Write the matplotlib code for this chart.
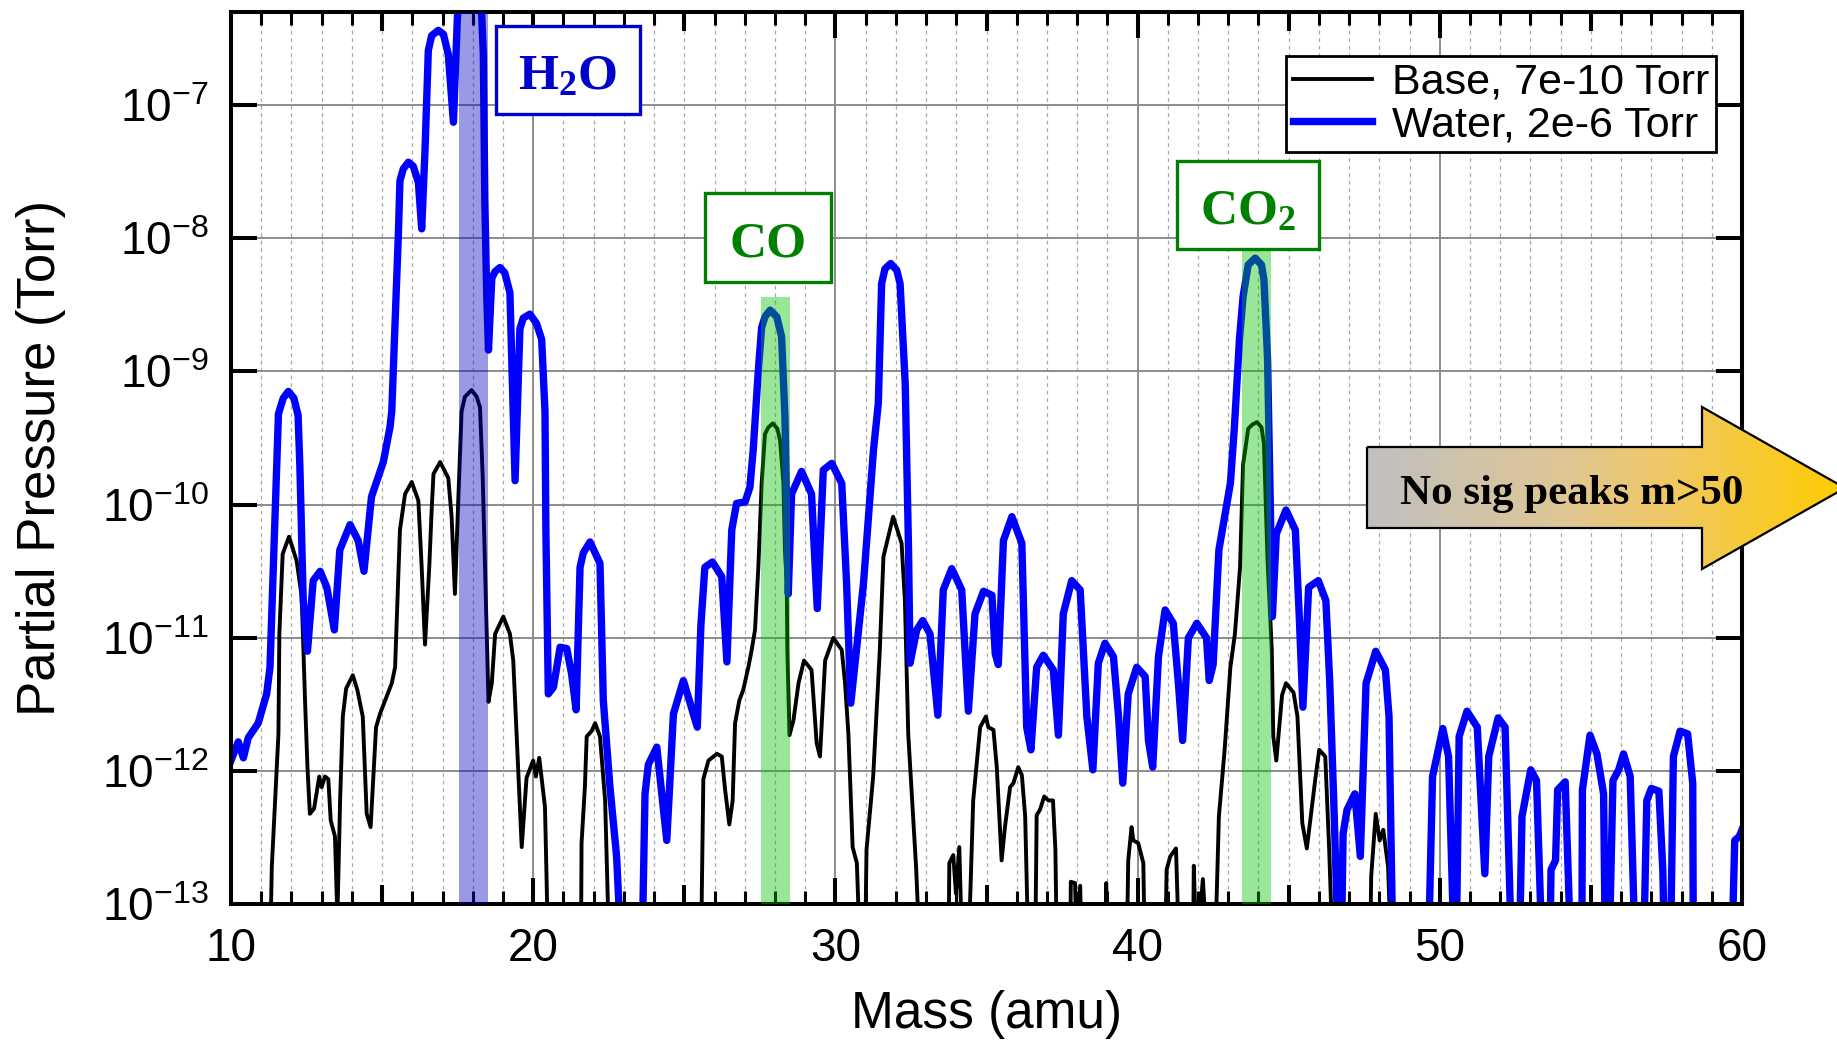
import numpy as np
import matplotlib
matplotlib.use('Agg')
import matplotlib.pyplot as plt
from matplotlib.patches import Rectangle, Polygon
from matplotlib.colors import LinearSegmentedColormap
from matplotlib.ticker import MultipleLocator, LogLocator, NullLocator

plt.rcParams['font.family'] = ['Liberation Sans', 'DejaVu Sans']
plt.rcParams['mathtext.default'] = 'regular'
plt.rcParams['axes.unicode_minus'] = False

# RGA scans, mass (amu) and log10 of partial pressure (Torr); -13.4 = below scale
base_mass = [11.29, 11.35, 11.46, 11.57, 11.60, 11.71, 11.92, 12.17, 12.34, 12.45,
             12.53, 12.61, 12.75, 12.92, 13.00, 13.11, 13.22, 13.30, 13.44, 13.52,
             13.61, 13.70, 13.81, 14.03, 14.18, 14.36, 14.49, 14.62, 14.80, 14.93,
             15.15, 15.32, 15.43, 15.59, 15.76, 15.98, 16.20, 16.31, 16.42, 16.56,
             16.64, 16.70, 16.92, 17.19, 17.30, 17.41, 17.52, 17.63, 17.74, 17.96,
             18.13, 18.24, 18.33, 18.46, 18.52, 18.63, 18.74, 19.01, 19.23, 19.34,
             19.45, 19.62, 19.78, 20.00, 20.09, 20.20, 20.39, 20.50, 21.58, 21.60,
             21.71, 21.77, 21.93, 22.05, 22.21, 22.38, 22.52, 25.55, 25.63, 25.80,
             26.08, 26.24, 26.35, 26.49, 26.60, 26.68, 26.82, 26.95, 27.12, 27.23,
             27.34, 27.45, 27.56, 27.67, 27.78, 27.93, 28.08, 28.17, 28.28, 28.33,
             28.39, 28.41, 28.48, 28.61, 28.78, 28.96, 29.21, 29.38, 29.49, 29.66,
             29.93, 30.21, 30.32, 30.43, 30.57, 30.71, 30.82, 30.98, 31.03, 31.25,
             31.47, 31.59, 31.91, 32.19, 32.30, 32.41, 32.67, 32.80, 33.74, 33.77,
             33.90, 33.99, 34.10, 34.20, 34.40, 34.46, 34.56, 34.79, 34.98, 35.06,
             35.23, 35.34, 35.50, 35.61, 35.78, 35.89, 36.05, 36.17, 36.28, 36.39,
             36.61, 36.66, 36.77, 36.91, 37.05, 37.20, 37.28, 37.33, 37.77, 37.79,
             37.93, 37.99, 38.10, 38.15, 38.95, 38.96, 38.99, 39.64, 39.69, 39.80,
             39.86, 40.02, 40.19, 40.24, 40.91, 40.96, 41.08, 41.27, 41.38, 41.83,
             41.86, 41.95, 42.16, 42.31, 42.56, 42.69, 42.88, 43.07, 43.22, 43.39,
             43.49, 43.66, 43.79, 43.95, 44.10, 44.18, 44.30, 44.44, 44.49, 44.59,
             44.78, 44.91, 45.16, 45.29, 45.45, 45.60, 45.73, 45.88, 46.01, 46.21,
             46.34, 46.46, 47.69, 47.73, 47.88, 48.01, 48.13, 48.29, 48.39]
base_logp = [-13.4, -12.72, -12.22, -11.72, -10.97, -10.37, -10.24, -10.42, -10.69, -11.47,
             -11.97, -12.32, -12.28, -12.04, -12.12, -12.04, -12.06, -12.37, -12.49, -13.1,
             -12.22, -11.59, -11.38, -11.28, -11.39, -11.59, -12.32, -12.42, -11.67, -11.57,
             -11.44, -11.34, -11.22, -10.19, -9.92, -9.83, -9.97, -10.47, -11.05, -10.47,
             -10.04, -9.77, -9.68, -9.80, -10.09, -10.67, -9.97, -9.30, -9.19, -9.14,
             -9.19, -9.27, -9.80, -10.97, -11.48, -11.34, -10.97, -10.84, -10.97, -11.17,
             -11.72, -12.57, -12.05, -11.92, -12.04, -11.90, -12.27, -13.4, -13.4, -12.54,
             -12.12, -11.74, -11.70, -11.64, -11.74, -12.22, -13.4, -13.4, -12.06, -11.92,
             -11.87, -11.89, -12.14, -12.40, -12.22, -11.64, -11.47, -11.39, -11.22, -11.09,
             -10.94, -10.47, -9.84, -9.47, -9.42, -9.39, -9.43, -9.52, -9.84, -10.34,
             -10.59, -11.09, -11.73, -11.62, -11.34, -11.17, -11.24, -11.79, -11.89, -11.17,
             -11.00, -11.09, -11.34, -11.72, -12.57, -12.69, -13.4, -13.4, -12.59, -12.04,
             -11.09, -10.39, -10.09, -10.29, -10.72, -11.72, -12.72, -13.4, -13.4, -12.69,
             -12.63, -12.92, -12.57, -13.4, -13.4, -12.95, -12.22, -11.67, -11.59, -11.67,
             -11.69, -11.97, -12.67, -12.42, -12.12, -12.09, -11.97, -12.03, -12.34, -13.4,
             -13.4, -12.33, -12.29, -12.19, -12.22, -12.22, -12.59, -13.4, -13.4, -12.83,
             -12.84, -13.4, -12.86, -13.4, -13.4, -12.84, -13.4, -13.4, -12.67, -12.42,
             -12.52, -12.54, -12.69, -13.4, -13.4, -12.74, -12.64, -12.58, -13.4, -13.4,
             -12.71, -13.4, -12.81, -13.4, -13.4, -12.34, -11.84, -11.22, -10.97, -10.47,
             -9.70, -9.43, -9.40, -9.38, -9.42, -9.54, -10.42, -11.09, -11.74, -11.92,
             -11.43, -11.34, -11.41, -11.59, -12.39, -12.58, -12.34, -12.06, -11.84, -11.89,
             -12.59, -13.4, -13.4, -12.79, -12.32, -12.52, -12.44, -12.72, -13.4]

water_mass = [10.00, 10.24, 10.41, 10.57, 10.90, 11.18, 11.29, 11.40, 11.57, 11.62,
              11.73, 11.90, 12.08, 12.22, 12.28, 12.39, 12.53, 12.72, 12.95, 13.17,
              13.42, 13.60, 13.94, 14.21, 14.40, 14.65, 15.04, 15.26, 15.32, 15.43,
              15.54, 15.59, 15.70, 15.87, 16.03, 16.20, 16.31, 16.42, 16.53, 16.64,
              16.86, 17.03, 17.19, 17.36, 17.49, 17.60, 18.20, 18.29, 18.35, 18.40,
              18.46, 18.52, 18.63, 18.74, 18.90, 19.06, 19.23, 19.40, 19.56, 19.67,
              19.89, 20.11, 20.28, 20.39, 20.42, 20.50, 20.67, 20.89, 21.11, 21.27,
              21.42, 21.55, 21.66, 21.88, 22.21, 22.32, 22.54, 22.76, 22.92, 23.60,
              23.70, 23.81, 24.09, 24.42, 24.64, 24.97, 25.43, 25.55, 25.68, 25.93,
              26.24, 26.41, 26.57, 26.73, 27.01, 27.17, 27.28, 27.45, 27.56, 27.67,
              27.84, 28.06, 28.22, 28.33, 28.44, 28.55, 28.88, 29.21, 29.40, 29.60,
              29.88, 30.21, 30.37, 30.51, 30.93, 31.26, 31.42, 31.53, 31.64, 31.83,
              32.03, 32.14, 32.31, 32.42, 32.47, 32.69, 32.89, 33.13, 33.39, 33.57,
              33.85, 34.18, 34.40, 34.62, 34.90, 35.18, 35.29, 35.39, 35.56, 35.84,
              36.17, 36.33, 36.47, 36.66, 36.88, 37.21, 37.38, 37.54, 37.82, 38.10,
              38.32, 38.52, 38.70, 38.92, 39.20, 39.37, 39.51, 39.69, 39.97, 40.25,
              40.36, 40.50, 40.69, 40.91, 41.18, 41.35, 41.49, 41.68, 41.96, 42.28,
              42.37, 42.50, 42.69, 42.88, 43.07, 43.20, 43.37, 43.49, 43.66, 43.89,
              44.10, 44.18, 44.30, 44.41, 44.46, 44.59, 44.91, 45.22, 45.35, 45.47,
              45.66, 45.98, 46.23, 46.36, 46.49, 46.65, 46.74, 46.80, 46.93, 47.19,
              47.37, 47.56, 47.88, 48.20, 48.32, 48.45, 49.62, 49.76, 50.10, 50.29,
              50.48, 50.54, 50.64, 50.90, 51.24, 51.49, 51.62, 51.93, 52.16, 52.38,
              52.63, 52.72, 53.01, 53.20, 53.39, 53.64, 53.68, 53.83, 53.90, 54.15,
              54.34, 54.70, 54.72, 54.97, 55.20, 55.42, 55.48, 55.60, 55.73, 55.92,
              56.08, 56.30, 56.47, 56.74, 56.85, 57.00, 57.25, 57.38, 57.44, 57.63,
              57.73, 57.95, 58.20, 58.37, 58.39, 59.66, 59.76, 59.91, 60.00]
water_logp = [-11.92, -11.78, -11.90, -11.75, -11.64, -11.42, -11.22, -10.47, -9.32, -9.28,
              -9.20, -9.15, -9.20, -9.33, -9.72, -10.72, -11.10, -10.57, -10.50, -10.62,
              -10.94, -10.34, -10.15, -10.27, -10.50, -9.94, -9.68, -9.42, -9.30, -8.63,
              -7.96, -7.57, -7.48, -7.43, -7.46, -7.58, -7.93, -7.34, -6.59, -6.48,
              -6.44, -6.47, -6.62, -7.13, -6.35, -5.90, -5.90, -6.30, -6.62, -7.72,
              -8.41, -8.84, -8.30, -8.25, -8.22, -8.26, -8.41, -9.82, -8.68, -8.60,
              -8.57, -8.64, -8.76, -9.30, -10.20, -11.42, -11.37, -11.07, -11.08, -11.27,
              -11.54, -10.47, -10.36, -10.28, -10.44, -11.47, -12.12, -12.64, -13.4, -13.4,
              -12.17, -11.95, -11.82, -12.52, -11.57, -11.32, -11.67, -10.90, -10.47, -10.43,
              -10.54, -11.18, -10.19, -9.99, -9.98, -9.87, -9.59, -8.99, -8.67, -8.59,
              -8.54, -8.59, -8.74, -9.34, -10.67, -9.92, -9.75, -9.92, -10.78, -9.74,
              -9.69, -9.84, -10.59, -11.49, -10.59, -9.59, -9.24, -8.34, -8.23, -8.19,
              -8.24, -8.34, -9.09, -10.34, -11.19, -10.94, -10.87, -10.97, -11.58, -10.64,
              -10.48, -10.64, -11.55, -10.82, -10.65, -10.68, -11.12, -11.20, -10.27, -10.09,
              -10.29, -11.67, -11.84, -11.22, -11.13, -11.24, -11.73, -10.82, -10.57, -10.64,
              -11.59, -11.99, -11.19, -11.04, -11.14, -11.59, -12.09, -11.42, -11.22, -11.29,
              -11.77, -11.97, -11.14, -10.79, -10.89, -11.34, -11.77, -11.00, -10.89, -11.00,
              -11.32, -11.20, -10.34, -10.09, -9.84, -9.43, -8.76, -8.44, -8.20, -8.15,
              -8.20, -8.31, -8.90, -10.24, -10.84, -10.22, -10.04, -10.19, -10.84, -11.52,
              -10.62, -10.57, -10.72, -11.34, -12.22, -13.4, -13.4, -12.47, -12.29, -12.17,
              -12.64, -11.34, -11.10, -11.24, -11.59, -13.4, -13.4, -12.04, -11.68, -11.89,
              -13.4, -13.4, -11.74, -11.55, -11.67, -12.77, -11.89, -11.60, -11.67, -13.4,
              -13.4, -12.34, -11.99, -12.07, -13.4, -13.4, -12.74, -12.67, -12.14, -12.08,
              -13.4, -13.4, -12.14, -11.73, -11.87, -12.17, -13.4, -13.4, -12.07, -11.99,
              -11.87, -12.04, -13.4, -13.4, -12.22, -12.13, -12.15, -12.74, -13.4, -13.4,
              -11.89, -11.70, -11.72, -12.09, -13.4, -13.4, -12.52, -12.49, -12.44]

series_labels = ['Base, 7e-10 Torr', 'Water, 2e-6 Torr']

# highlighted species: label, band (mass range, band top), label box (mass range, log p range)
species = ['H$_2$O', 'CO', 'CO$_2$']
species_colors = ['#0000cd', '#008000', '#008000']
band_mass = [(17.55, 18.52), (27.54, 28.50), (43.45, 44.41)]
band_top = [5e-7, 3.6e-9, 8.3e-9]
band_colors = ['#0000c0', '#00c100', '#00c100']
box_mass = [(18.77, 23.53), (25.69, 29.86), (41.30, 46.00)]
box_logp = [(-7.07, -6.41), (-8.33, -7.66), (-8.08, -7.42)]

W, H = 1837, 1042
fig = plt.figure(figsize=(W / 100, H / 100), dpi=100)
ax = fig.add_axes([231 / W, 1 - 904.4 / H, (1742 - 231) / W, (904.4 - 11.8) / H])
ax.set_yscale('log')
ax.set_xlim(10, 60)
ax.set_ylim(1e-13, 5e-7)

ax.plot(base_mass, 10 ** np.array(base_logp), color='black', lw=2.8, zorder=2,
        label=series_labels[0])
ax.plot(water_mass, 10 ** np.array(water_logp), color='#0000ff', lw=5.3, zorder=2.1,
        label=series_labels[1])

for (m0, m1), top, c in zip(band_mass, band_top, band_colors):
    ax.fill_between([m0, m1], 1e-13, top, color=c, alpha=0.4, lw=0, zorder=3)

for name, c, (m0, m1), (l0, l1) in zip(species, species_colors, box_mass, box_logp):
    ax.add_patch(Rectangle((m0, 10 ** l0), m1 - m0, 10 ** l1 - 10 ** l0,
                           fc='white', ec=c, lw=2.4, zorder=5))
    ax.annotate(name, xy=((m0 + m1) / 2, 10 ** ((l0 + l1) / 2)), xytext=(0, -5),
                textcoords='offset points', color=c, fontsize=37,
                fontfamily='Liberation Serif', fontweight='bold',
                ha='center', va='center', zorder=6)

# axes, ticks, grid
ax.xaxis.set_major_locator(MultipleLocator(10))
ax.xaxis.set_minor_locator(MultipleLocator(1))
ax.yaxis.set_major_locator(LogLocator(base=10, numticks=20))
ax.yaxis.set_minor_locator(NullLocator())
ax.grid(which='major', color='#8c8c8c', lw=1.4, ls='-')
ax.grid(which='minor', axis='x', color='#a8a8a8', lw=0.9, ls=(0, (3, 3)))
ax.set_axisbelow(True)
ax.tick_params(which='major', direction='in', length=19, width=2.9,
               top=True, right=True, labelsize=33, pad=16)
ax.tick_params(which='minor', direction='in', length=9.5, width=2.2,
               top=True, right=True)
ax.tick_params(axis='y', pad=16)
for sp in ax.spines.values():
    sp.set_linewidth(2.9)
mid_ticks = [15, 25, 35, 45, 55]
ax.plot(mid_ticks, [0] * len(mid_ticks), transform=ax.get_xaxis_transform(),
        ls='none', marker=2, ms=14, mew=2.9, color='black', clip_on=False, zorder=6)
ax.plot(mid_ticks, [1] * len(mid_ticks), transform=ax.get_xaxis_transform(),
        ls='none', marker=3, ms=14, mew=2.9, color='black', clip_on=False, zorder=6)

ax.set_xlabel('Mass (amu)', fontsize=37, labelpad=14)
ax.set_ylabel('Partial Pressure (Torr)', fontsize=38, labelpad=26)

leg = ax.legend(loc='upper right', bbox_to_anchor=(0.9828, 0.9505), borderaxespad=0,
                fontsize=31, frameon=True, fancybox=False, framealpha=1,
                edgecolor='black', handlelength=1.85, handletextpad=0.45,
                borderpad=0.16, labelspacing=0.05)
leg.get_frame().set_linewidth(2.0)
leg.set_zorder(7)

# gradient arrow, drawn in figure pixels
over = fig.add_axes([0, 0, 1, 1], zorder=10)
over.set_xlim(0, W)
over.set_ylim(H, 0)
over.axis('off')
arrow_pts = [(1367, 447), (1702, 447), (1702, 407), (1845, 488),
             (1702, 569), (1702, 528), (1367, 528)]
arrow = Polygon(arrow_pts, closed=True, fc='none', ec='black', lw=1.6, zorder=3)
over.add_patch(arrow)
grad_cmap = LinearSegmentedColormap.from_list(
    'grad', [(0, '#c0c0c0'), (0.4, '#dec696'), (0.63, '#f0c864'), (1, '#ffcc00')])
img = over.imshow(np.linspace(0, 1, 256)[None, :], cmap=grad_cmap, aspect='auto',
                  extent=[1367, 1845, 569, 407], zorder=2)
img.set_clip_path(arrow)
over.text(1572, 494, 'No sig peaks m>50', fontsize=31, fontfamily='Liberation Serif',
          fontweight='bold', ha='center', va='center', zorder=4)
over.set_xlim(0, W)
over.set_ylim(H, 0)

fig.savefig('out.png', dpi=100)
